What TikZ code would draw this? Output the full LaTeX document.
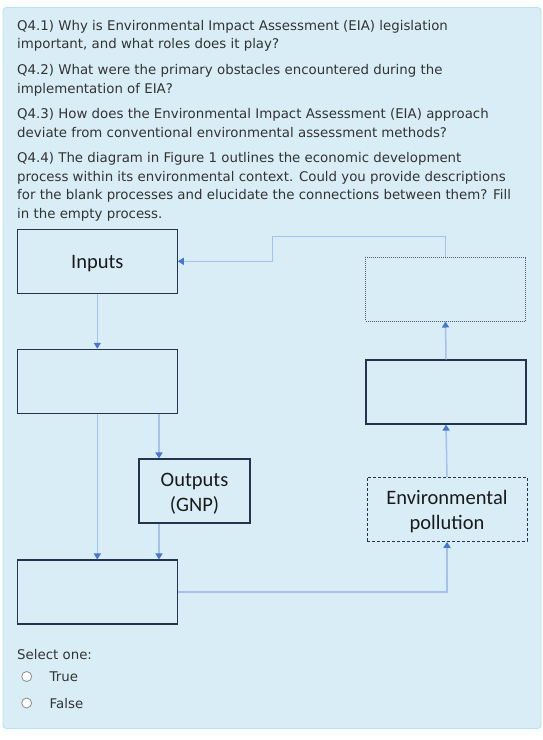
\documentclass[tikz,border=0pt]{standalone}
\usepackage{fontspec}
\setmainfont{DejaVu Sans}
\newfontfamily\boxfont{Carlito}
\usetikzlibrary{arrows.meta,positioning}

\definecolor{panelfill}{HTML}{D9EDF7}
\definecolor{panelline}{HTML}{B2E3EE}
\definecolor{qgray}{HTML}{333333}
\definecolor{boxline}{HTML}{26334D}
\definecolor{flowline}{HTML}{A3C2EC}
\definecolor{tipblue}{HTML}{4677CF}
\definecolor{labeltext}{HTML}{1A1A1A}

\begin{document}
\begin{tikzpicture}[x=1pt,y=-1pt,
    box/.style={draw=boxline, line width=1.1pt, minimum width=160pt, minimum height=64pt, inner sep=0pt},
    boxlabel/.style={align=center, text=labeltext, yshift=-2.5pt, font=\boxfont\fontsize{20.5}{25}\selectfont},
    dotbox/.style={box, draw=boxline!80, line width=1pt, dash pattern=on 1pt off 1pt},
    dashbox/.style={box, line width=1pt, dash pattern=on 3pt off 2pt},
    flow/.style={draw=flowline, line width=1.5pt, -{Triangle[length=6pt,width=7pt,color=tipblue]}},
    qtext/.style={anchor=base west, inner sep=0pt, align=left, text=qgray,
        font=\fontsize{13.35}{18.5}\selectfont},
    radio/.style={circle, draw=gray!90, fill=white, line width=0.8pt, minimum size=10pt, inner sep=0pt}]

    % Page and panel
    \useasboundingbox (0,0) rectangle (543,740);
    \fill[white] (0,0) rectangle (543,740);
    \draw[panelline, fill=panelfill, rounded corners=3pt, line width=0.8pt] (3,7.5) rectangle (541,728.5);

    % Questions (base = last line)
    \node[qtext] (q1) at (17,48.5) {Q4.1) Why is Environmental Impact Assessment (EIA) legislation\\
        important, and what roles does it play?};
    \node[qtext] (q2) at (17,93) {Q4.2) What were the primary obstacles encountered during the\\
        implementation of EIA?};
    \node[qtext] (q3) at (17,137) {Q4.3) How does the Environmental Impact Assessment (EIA) approach\\
        deviate from conventional environmental assessment methods?};
    \node[qtext] (q4) at (17,218) {Q4.4) The diagram in Figure 1 outlines the economic development\\
        process within its environmental context. Could you provide descriptions\\
        for the blank processes and elucidate the connections between them? Fill\\
        in the empty process.};

    % Boxes
    \node[box, label={[boxlabel]center:Inputs}] (inputs) at (97.3,261.3) {};
    \node[box] (proc) at (97.3,381.3) {};
    \node[box, minimum width=111pt, label={[boxlabel]center:Outputs\\(GNP)}] (outputs) at (194.5,491) {};
    \node[box] (sink) at (97.3,592) {};
    \node[dashbox, label={[boxlabel]center:Environmental\\pollution}] (envpol) at (447,509.3) {};
    \node[box] (mid) at (446,392) {};
    \node[dotbox] (topbox) at (445.5,289) {};

    % Connectors
    \coordinate (gx) at (159,0);
    \coordinate (turn) at (272.3,236.7);
    \draw[flow] (inputs.south) -- (proc.north);
    \draw[flow] (proc.south) -- (sink.north);
    \draw[flow] (proc.south -| gx) -- (outputs.north -| gx);
    \draw[flow] (outputs.south -| gx) -- (sink.north -| gx);
    \draw[flow] (sink.east) -| (envpol.south);
    \draw[flow] (envpol.north) -- (mid.south);
    \draw[flow] (mid.north) -- (topbox.south);
    \draw[flow] (topbox.north) |- (turn) |- (inputs.east);

    % Answer choices
    \node[qtext] (select) at (17,659) {Select one:};
    \node[radio] (rtrue) at (26.7,676.5) {};
    \node[radio] (rfalse) at (26.7,703) {};
    \node[qtext] (ltrue) at (49.5,681) {True};
    \node[qtext] (lfalse) at (49.5,708) {False};
\end{tikzpicture}
\end{document}
